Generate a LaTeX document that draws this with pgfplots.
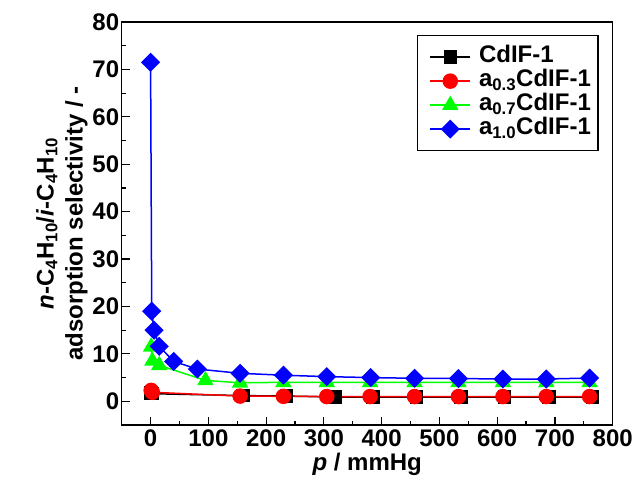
\documentclass[border=0pt]{standalone}
\usepackage{pgfplots}
\pgfplotsset{compat=1.18}
\usepackage{fontspec}
\setmainfont{Liberation Sans}
\begin{document}
\begin{tikzpicture}
\begin{axis}[
  at={(0pt,0pt)}, anchor=south west,
  scale only axis, width=491pt, height=403pt,
  xmin=-50, xmax=800, ymin=-5, ymax=80,
  xtick={0,100,...,800}, ytick={0,10,...,80},
  minor x tick num=1, minor y tick num=1,
  xtick pos=left, ytick pos=left,
  tick align=inside,
  major tick length=8pt, minor tick length=4pt,
  axis line style={line width=1.5pt},
  every tick/.style={black, line width=1.2pt},
  /pgf/number format/assume math mode=true,
  tick label style={font=\fontsize{24}{26}\selectfont\bfseries},
  xticklabel style={yshift=-1pt},
  yticklabel style={xshift=1pt},
  label style={font=\fontsize{24}{29}\selectfont\bfseries},
  xlabel={\textit{p} / mmHg},
  xlabel style={yshift=0pt},
  ylabel={\textit{n}-C\textsubscript{4}H\textsubscript{10}/\textit{i}-C\textsubscript{4}H\textsubscript{10}\\adsorption selectivity / -},
  ylabel style={align=center, yshift=-2pt},
  legend style={at={(axis description cs:0.601,0.968)}, anchor=north west,
    font=\fontsize{24}{26}\selectfont\bfseries, draw=black, line width=1.5pt,
    cells={anchor=west}, row sep=1pt, inner xsep=5pt, inner ysep=10pt,
    nodes={inner xsep=2pt, inner ysep=1pt, text height=16pt, text depth=5pt}},
  legend image code/.code={\path (-7pt,0pt) (46pt,0pt);\draw[mark repeat=2,mark phase=2] plot coordinates {(0pt,0pt)(20pt,0pt)(40pt,0pt)};},
]
\addplot[black, line width=1.5pt, mark=square*, mark size=6pt, mark options={solid}] coordinates {
(1,1.7)(3,1.6)(160,1.2)(235,1.1)(320,0.9)(385,0.9)(460,0.9)(537,0.9)(613,0.9)(690,0.9)(765,0.9)};
\addlegendentry{CdIF-1}
\addplot[red, line width=1.5pt, mark=*, mark size=7pt] coordinates {
(1,2.3)(3,1.9)(155,1.1)(230,1.05)(305,1.0)(380,1.0)(457,1.0)(533,1.0)(610,1.0)(685,1.0)(760,1.0)};
\addlegendentry{a\textsubscript{0.3}CdIF-1}
\addplot[green, line width=1.5pt, mark=triangle*, mark size=8pt] coordinates {
(1,11.5)(3,8.5)(15,7.6)(95,4.4)(155,3.9)(230,4.0)(305,4.0)(380,4.0)(457,4.0)(533,4.0)(610,4.0)(685,4.0)(760,4.0)};
\addlegendentry{a\textsubscript{0.7}CdIF-1}
\addplot[blue, line width=1.5pt, mark=square*, mark size=6pt, mark options={rotate=45}] coordinates {
(0,71.5)(2,19.0)(6,15.0)(15,11.6)(40,8.4)(81,6.8)(155,5.9)(230,5.5)(305,5.2)(381,5.0)(457,4.85)(533,4.8)(610,4.7)(685,4.7)(760,4.9)};
\addlegendentry{a\textsubscript{1.0}CdIF-1}
\end{axis}
\path (-121.7pt,-57pt) rectangle (516.3pt,425pt);
\end{tikzpicture}
\end{document}
